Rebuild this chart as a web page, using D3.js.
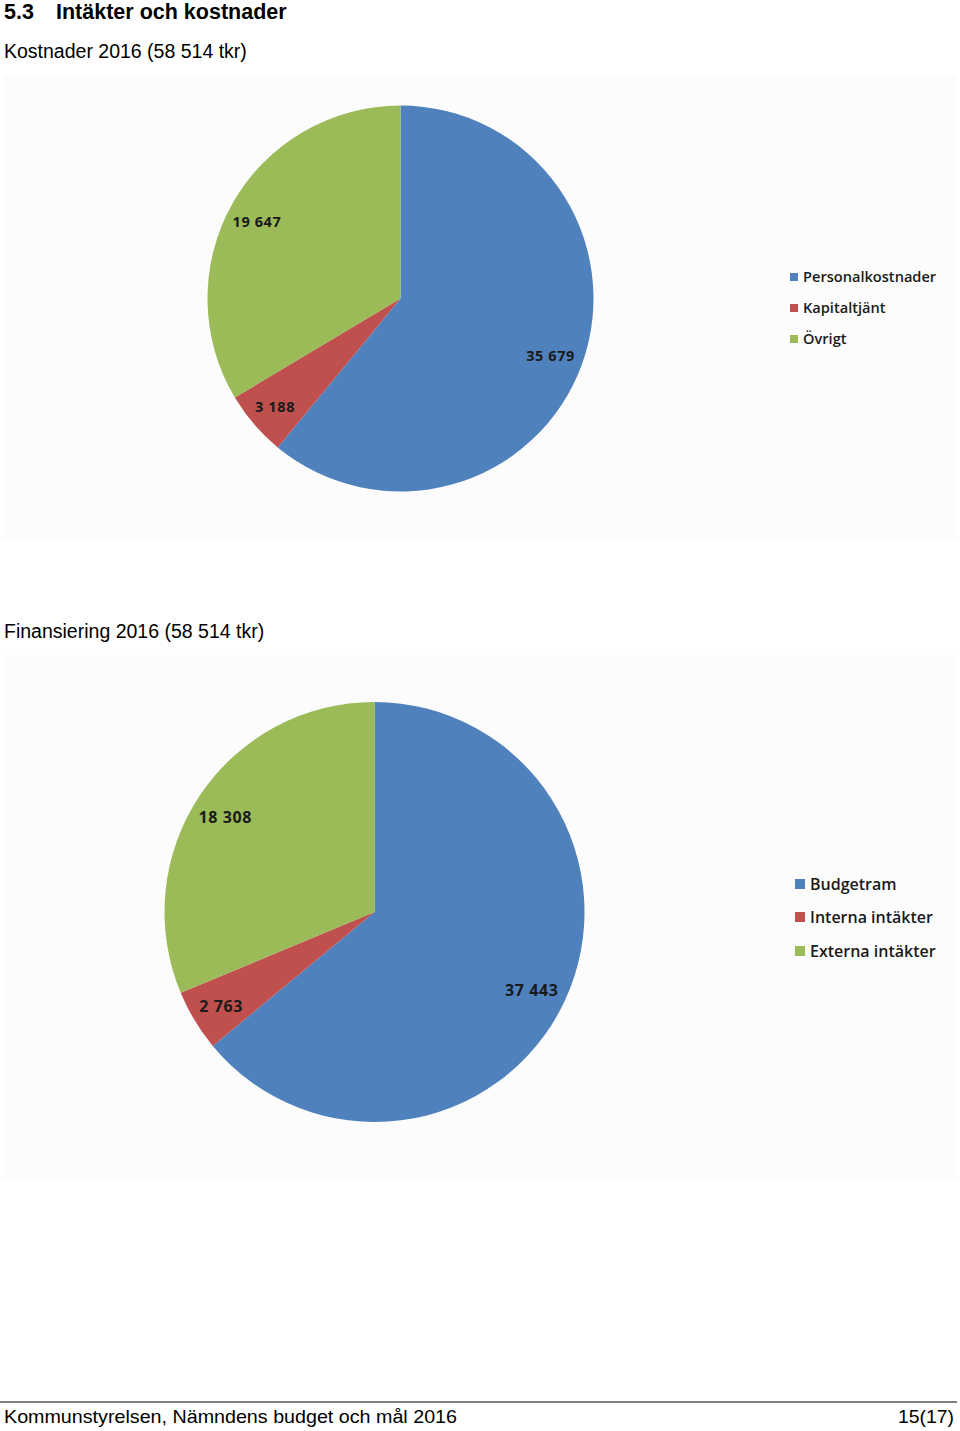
<!DOCTYPE html>
<html><head><meta charset="utf-8">
<script src="https://cdn.jsdelivr.net/npm/d3@7"></script>
<style>body{margin:0;background:#fff}svg{display:block}</style>
</head><body>
<script>
const costCategories = ["Personalkostnader", "Kapitaltjänt", "Övrigt"];
const costValues = [35679, 3188, 19647];
const costLabels = ["35 679", "3 188", "19 647"];
const finCategories = ["Budgetram", "Interna intäkter", "Externa intäkter"];
const finValues = [37443, 2763, 18308];
const finLabels = ["37 443", "2 763", "18 308"];
const sliceColors = ["#4F81BD", "#C0504D", "#9BBB59"];

const W = 960, H = 1431;
const svg = d3.select("body").append("svg").attr("width", W).attr("height", H);

svg.append("text").attr("x", 4).attr("y", 19)
  .attr("font-family", "Liberation Sans, Arial, sans-serif").attr("font-weight", "bold").attr("font-size", 21.5)
  .attr("fill", "#000").text("5.3");
svg.append("text").attr("x", 56).attr("y", 19)
  .attr("font-family", "Liberation Sans, Arial, sans-serif").attr("font-weight", "bold").attr("font-size", 21.5)
  .attr("fill", "#000").text("Intäkter och kostnader");

function chart(cfg) {
  svg.append("text").attr("x", 4).attr("y", cfg.titleY)
    .attr("font-family", "Liberation Sans, Arial, sans-serif").attr("font-size", 19.5)
    .attr("fill", "#000").text(cfg.title);
  svg.append("rect").attr("x", cfg.box[0]).attr("y", cfg.box[1]).attr("width", cfg.box[2]).attr("height", cfg.box[3])
    .attr("fill", "#fcfcfc");
  const color = d3.scaleOrdinal().domain(cfg.cats).range(sliceColors);
  const pie = d3.pie().sort(null).value(d => d.v);
  const data = cfg.cats.map((c, i) => ({c, v: cfg.vals[i], l: cfg.labels[i]}));
  const arcs = pie(data);
  const arc = d3.arc().innerRadius(0).outerRadius(cfg.r);
  const lab = d3.arc().innerRadius(cfg.r * 0.84).outerRadius(cfg.r * 0.84);
  const g = svg.append("g").attr("transform", `translate(${cfg.cx},${cfg.cy})`);
  g.selectAll("path").data(arcs).join("path").attr("d", arc).attr("fill", d => color(d.data.c));
  g.selectAll("text").data(arcs).join("text")
    .attr("transform", d => { const c = lab.centroid(d); return `translate(${c[0] - 2.5},${c[1] + 3})`; })
    .attr("text-anchor", "middle").attr("dy", "0.35em")
    .attr("font-family", "Open Sans, sans-serif").attr("font-weight", "bold").attr("font-size", cfg.lfs)
    .attr("letter-spacing", 0.6)
    .attr("fill", "#1a1a1a").text(d => d.data.l);
  const lg = svg.append("g");
  cfg.cats.forEach((c, i) => {
    const y = cfg.legY[i];
    lg.append("rect").attr("x", cfg.legX).attr("y", y - cfg.sq / 2).attr("width", cfg.sq).attr("height", cfg.sq).attr("fill", color(c));
    lg.append("text").attr("x", cfg.legX + cfg.sq + 5).attr("y", y).attr("dy", "0.35em")
      .attr("font-family", "Open Sans, sans-serif").attr("font-weight", "600").attr("font-size", cfg.legFs)
      .attr("fill", "#1a1a1a").text(c);
  });
}

chart({title: "Kostnader 2016 (58 514 tkr)", titleY: 58, box: [3, 75, 954, 465],
  cats: costCategories, vals: costValues, labels: costLabels, cx: 400.5, cy: 298.5, r: 193, lfs: 14.5,
  legX: 790, legY: [277, 308, 339], sq: 8, legFs: 14.6});
chart({title: "Finansiering 2016 (58 514 tkr)", titleY: 638, box: [3, 655, 954, 525],
  cats: finCategories, vals: finValues, labels: finLabels, cx: 374.5, cy: 912, r: 210, lfs: 16,
  legX: 795, legY: [884, 917, 951], sq: 10, legFs: 16});

svg.append("line").attr("x1", 0).attr("x2", 957).attr("y1", 1402).attr("y2", 1402).attr("stroke", "#000").attr("stroke-width", 1.2);
svg.append("text").attr("x", 4).attr("y", 1423)
  .attr("font-family", "Liberation Sans, Arial, sans-serif").attr("font-size", 18.5)
  .attr("textLength", 453).attr("lengthAdjust", "spacingAndGlyphs")
  .text("Kommunstyrelsen, Nämndens budget och mål 2016");
svg.append("text").attr("x", 954).attr("y", 1423).attr("text-anchor", "end")
  .attr("font-family", "Liberation Sans, Arial, sans-serif").attr("font-size", 18.5)
  .attr("textLength", 56).attr("lengthAdjust", "spacingAndGlyphs")
  .text("15(17)");
</script>
</body></html>
